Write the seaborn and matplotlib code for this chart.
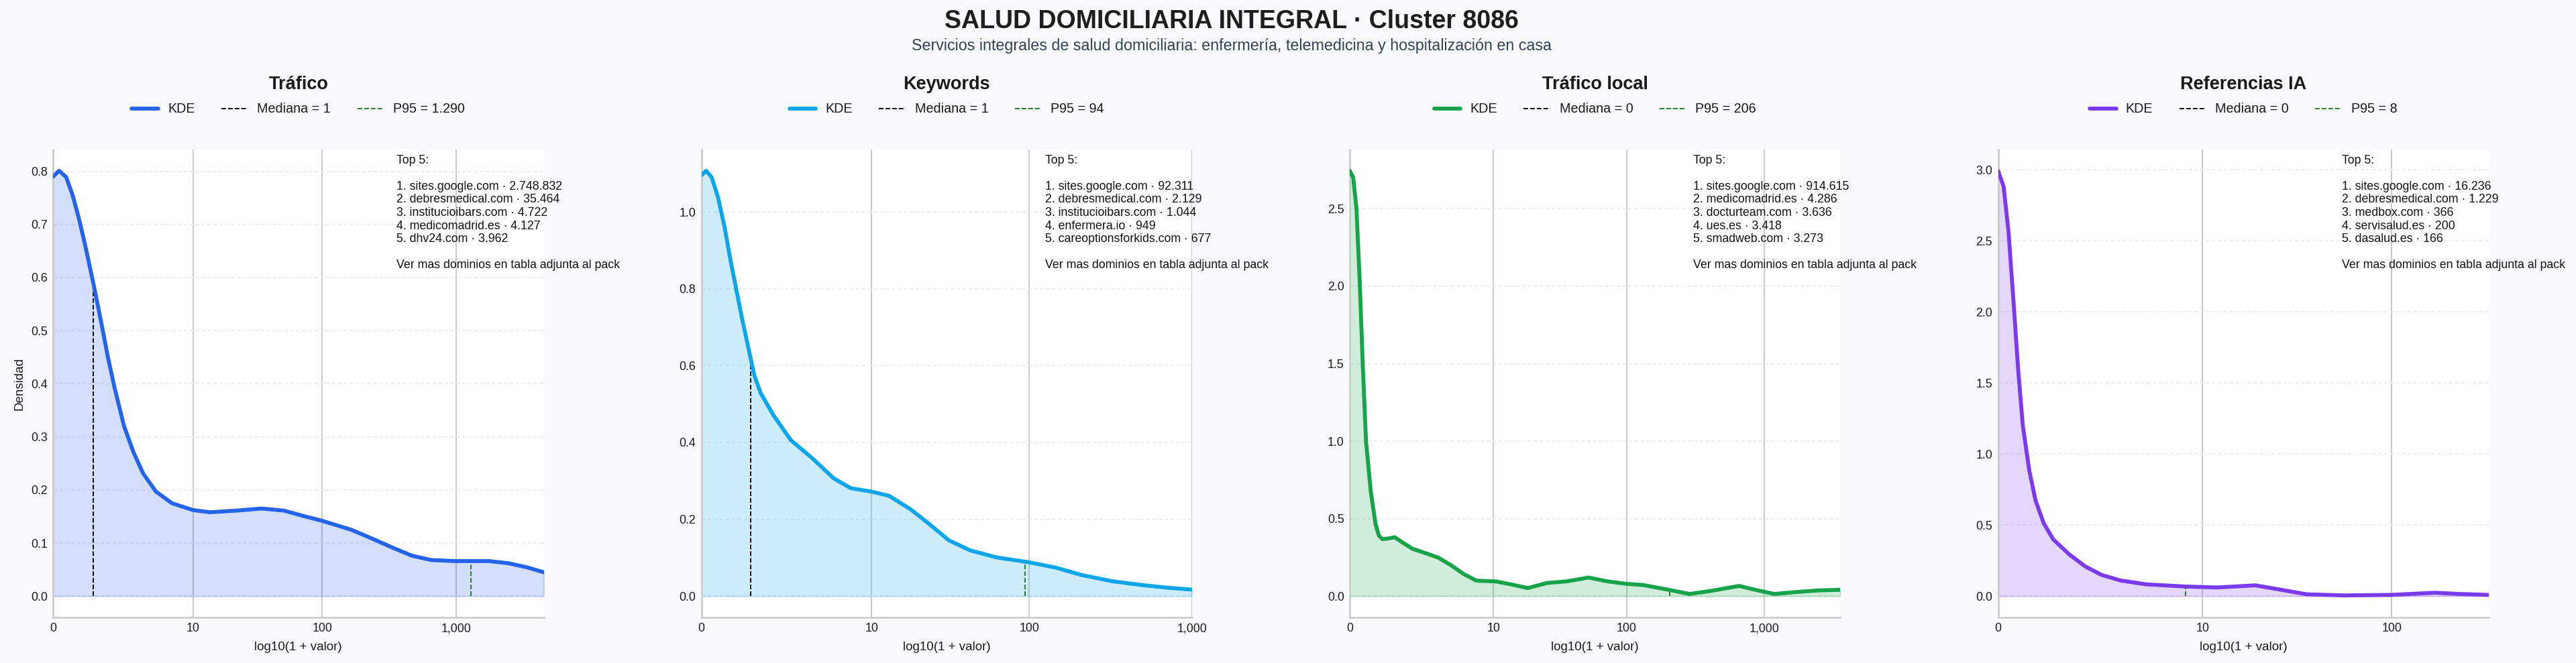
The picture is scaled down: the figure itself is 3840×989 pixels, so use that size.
import numpy as np
import pandas as pd
import matplotlib
matplotlib.use("Agg")
import matplotlib.pyplot as plt
import seaborn as sns
from matplotlib.ticker import FixedLocator, FixedFormatter, MultipleLocator
from matplotlib.lines import Line2D

# ---------------- data ----------------
TITLE = "SALUD DOMICILIARIA INTEGRAL · Cluster 8086"
SUBTITLE = ("Servicios integrales de salud domiciliaria: enfermería, "
            "telemedicina y hospitalización en casa")

panel_titles = ["Tráfico", "Keywords", "Tráfico local", "Referencias IA"]
medians = [1, 1, 0, 0]
p95_values = [1290, 94, 206, 8]
x_max_values = [4500, 1000, 3580, 314]
x_tick_values = [[0, 10, 100, 1000], [0, 10, 100, 1000],
                 [0, 10, 100, 1000], [0, 10, 100]]
x_tick_labels = [["0", "10", "100", "1,000"], ["0", "10", "100", "1,000"],
                 ["0", "10", "100", "1,000"], ["0", "10", "100"]]

# KDE curves (x in log10(1 + valor), y = density)
kde_x_trafico = [0.0, 0.046, 0.098, 0.146, 0.194, 0.241, 0.303, 0.361, 0.408, 0.456,
                 0.528, 0.599, 0.671, 0.766, 0.885, 1.043, 1.171, 1.362, 1.553, 1.720,
                 1.863, 2.002, 2.221, 2.388, 2.531, 2.674, 2.817, 2.996, 3.247, 3.390,
                 3.533, 3.653]
kde_y_trafico = [0.790, 0.801, 0.789, 0.755, 0.710, 0.659, 0.586, 0.513, 0.451, 0.395,
                 0.321, 0.271, 0.231, 0.197, 0.175, 0.162, 0.158, 0.161, 0.165, 0.161,
                 0.151, 0.142, 0.125, 0.107, 0.091, 0.076, 0.068, 0.066, 0.066, 0.062,
                 0.054, 0.045]

kde_x_keywords = [0.0, 0.029, 0.063, 0.102, 0.141, 0.180, 0.250, 0.324, 0.363, 0.442,
                  0.547, 0.678, 0.808, 0.913, 1.041, 1.148, 1.279, 1.384, 1.514, 1.645,
                  1.802, 2.004, 2.169, 2.325, 2.509, 2.692, 2.849, 3.0]
kde_y_keywords = [1.095, 1.107, 1.090, 1.038, 0.962, 0.870, 0.720, 0.574, 0.528, 0.470,
                  0.406, 0.359, 0.307, 0.281, 0.272, 0.261, 0.226, 0.191, 0.145, 0.119,
                  0.101, 0.088, 0.074, 0.055, 0.039, 0.029, 0.022, 0.017]

kde_x_local = [0.0, 0.025, 0.049, 0.073, 0.095, 0.118, 0.153, 0.188, 0.212, 0.236,
               0.280, 0.327, 0.385, 0.454, 0.547, 0.640, 0.733, 0.825, 0.918, 1.058,
               1.174, 1.289, 1.429, 1.568, 1.730, 1.869, 2.008, 2.124, 2.310, 2.461,
               2.611, 2.820, 2.936, 3.075, 3.238, 3.400, 3.554]
kde_y_local = [2.745, 2.702, 2.500, 2.019, 1.480, 0.999, 0.672, 0.460, 0.390, 0.368,
               0.372, 0.380, 0.345, 0.306, 0.278, 0.249, 0.200, 0.143, 0.100, 0.095,
               0.075, 0.052, 0.085, 0.095, 0.120, 0.095, 0.079, 0.072, 0.041, 0.014,
               0.033, 0.066, 0.041, 0.014, 0.027, 0.037, 0.041]

kde_x_ia = [0.0, 0.028, 0.053, 0.077, 0.102, 0.126, 0.159, 0.191, 0.232, 0.281,
            0.363, 0.444, 0.526, 0.624, 0.755, 0.950, 1.114, 1.310, 1.440, 1.571,
            1.767, 2.003, 2.224, 2.354, 2.498]
kde_y_ia = [2.993, 2.883, 2.567, 2.104, 1.599, 1.199, 0.883, 0.672, 0.514, 0.399,
            0.293, 0.209, 0.150, 0.110, 0.083, 0.068, 0.061, 0.076, 0.045, 0.013,
            0.005, 0.009, 0.024, 0.015, 0.009]

top5_trafico = [("sites.google.com", "2.748.832"), ("debresmedical.com", "35.464"),
                ("institucioibars.com", "4.722"), ("medicomadrid.es", "4.127"),
                ("dhv24.com", "3.962")]
top5_keywords = [("sites.google.com", "92.311"), ("debresmedical.com", "2.129"),
                 ("institucioibars.com", "1.044"), ("enfermera.io", "949"),
                 ("careoptionsforkids.com", "677")]
top5_local = [("sites.google.com", "914.615"), ("medicomadrid.es", "4.286"),
              ("docturteam.com", "3.636"), ("ues.es", "3.418"),
              ("smadweb.com", "3.273")]
top5_ia = [("sites.google.com", "16.236"), ("debresmedical.com", "1.229"),
           ("medbox.com", "366"), ("servisalud.es", "200"), ("dasalud.es", "166")]

# ---------------- style ----------------
colors = ["#2563eb", "#0ea5e9", "#16a34a", "#7c3aed"]
y_steps = [0.1, 0.2, 0.5, 0.5]
P95_COLOR = "#1a7a1a"
BG = "#f8fafc"

sns.set_theme(style="whitegrid")
plt.rcParams["font.family"] = ["Liberation Sans", "DejaVu Sans"]
plt.rcParams["text.color"] = "#1a1a1a"
plt.rcParams["axes.labelcolor"] = "#1a1a1a"
plt.rcParams["xtick.color"] = "#1a1a1a"
plt.rcParams["ytick.color"] = "#1a1a1a"

W, H = 3840, 989
fig = plt.figure(figsize=(W / 150, H / 150), dpi=150, facecolor=BG)

curves = [(kde_x_trafico, kde_y_trafico), (kde_x_keywords, kde_y_keywords),
          (kde_x_local, kde_y_local), (kde_x_ia, kde_y_ia)]
tops = [top5_trafico, top5_keywords, top5_local, top5_ia]


def es_thousands(v):
    return f"{v:,}".replace(",", ".")


ax_w = 731.5 / W
ax_h = 698 / H
ax_b = 68 / H
for i in range(4):
    left = (79 + i * 966.5) / W
    ax = fig.add_axes([left, ax_b, ax_w, ax_h])
    ax.set_facecolor("white")
    kx, ky = curves[i]
    df = pd.DataFrame({"x": kx, "y": ky})
    c = colors[i]

    ax.fill_between(df["x"], df["y"], 0, color=c, alpha=0.2, lw=1.0, zorder=1.5)
    sns.lineplot(data=df, x="x", y="y", ax=ax, color=c, lw=2.8, sort=False,
                 zorder=4, solid_joinstyle="round", solid_capstyle="round")

    mx = np.log10(1 + medians[i])
    px = np.log10(1 + p95_values[i])
    ax.vlines(mx, 0, np.interp(mx, kx, ky), colors="black", linestyles="--",
              lw=0.9, zorder=2.2)
    ax.vlines(px, 0, np.interp(px, kx, ky), colors=P95_COLOR, linestyles="--",
              lw=0.9, zorder=2.2)

    ax.set_xlim(0, np.log10(1 + x_max_values[i]))
    ax.margins(y=0.05)
    tick_pos = [np.log10(1 + v) for v in x_tick_values[i]]
    ax.xaxis.set_major_locator(FixedLocator(tick_pos))
    ax.xaxis.set_major_formatter(FixedFormatter(x_tick_labels[i]))
    ax.yaxis.set_major_locator(MultipleLocator(y_steps[i]))
    ax.tick_params(axis="both", labelsize=8.5, length=0, pad=4)

    ax.grid(False)
    ax.grid(axis="x", color="#cbcbcb", lw=1.0, ls="-")
    ax.grid(axis="y", color="#ebebeb", lw=0.8, ls="--")
    ax.set_axisbelow(True)
    sns.despine(ax=ax)
    for s in ("left", "bottom"):
        ax.spines[s].set_color("#cccccc")
        ax.spines[s].set_linewidth(1.3)
        ax.spines[s].set_zorder(3)

    ax.set_xlabel("log10(1 + valor)", fontsize=9, labelpad=5)
    ax.set_ylabel("Densidad" if i == 0 else "", fontsize=9)

    ax.text(0.5, 1.129, panel_titles[i], transform=ax.transAxes, ha="center",
            va="baseline", fontsize=13, fontweight="bold", color="#1a1a1a")

    handles = [Line2D([0], [0], color=c, lw=2.8, solid_capstyle="round"),
               Line2D([0], [0], color="black", lw=0.9, ls="--"),
               Line2D([0], [0], color=P95_COLOR, lw=0.9, ls="--")]
    labels = ["KDE", f"Mediana = {es_thousands(medians[i])}",
              f"P95 = {es_thousands(p95_values[i])}"]
    ax.legend(handles, labels, loc="center", bbox_to_anchor=(0.5, 1.086), ncol=3,
              frameon=False, fontsize=9.5, handlelength=2.0, handletextpad=0.7,
              columnspacing=2.0)

    lines = ["Top 5:", ""]
    lines += [f"{k + 1}. {d} · {v}" for k, (d, v) in enumerate(tops[i])]
    lines += ["", "Ver mas dominios en tabla adjunta al pack"]
    ax.text(0.70, 0.989, "\n".join(lines), transform=ax.transAxes, ha="left",
            va="top", fontsize=8.5, color="#111111", clip_on=False, zorder=6)

fig.text(0.478, 1 - 41.7 / H, TITLE, ha="center", va="baseline", fontsize=18,
         fontweight="bold", color="#1e1e1e")
fig.text(0.478, 1 - 75 / H, SUBTITLE, ha="center", va="baseline", fontsize=11.2,
         color="#334155")

fig.savefig("out.png", dpi=150, facecolor=BG)
